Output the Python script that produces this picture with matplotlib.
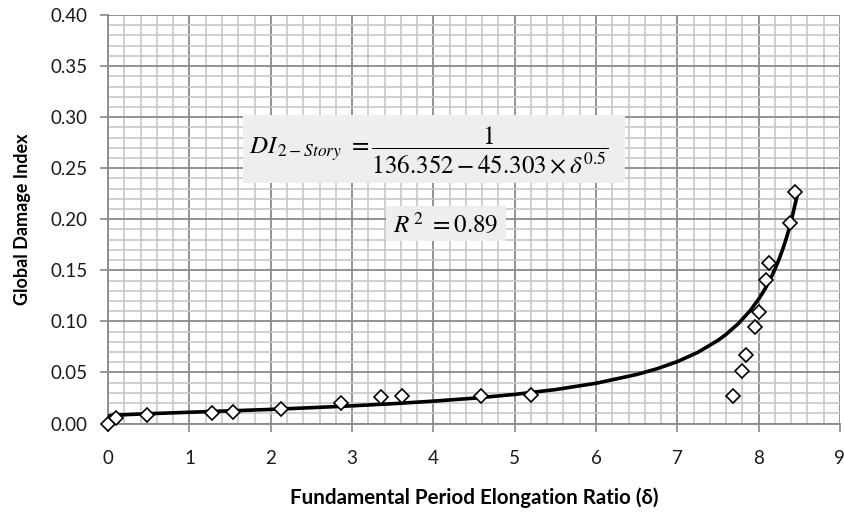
import matplotlib
matplotlib.use('Agg')
import matplotlib.pyplot as plt
from matplotlib.patches import Rectangle
from matplotlib.ticker import MultipleLocator

# measured points (elongation ratio vs damage index)
delta = [0.0, 0.10, 0.48, 1.28, 1.54, 2.13, 2.86, 3.35, 3.61, 4.58, 5.20,
         7.69, 7.79, 7.84, 7.96, 8.01, 8.09, 8.13, 8.38, 8.45]
di = [0.000, 0.005, 0.0085, 0.0106, 0.0117, 0.0140, 0.0198, 0.0262, 0.0269, 0.0270, 0.0280,
      0.0269, 0.0514, 0.0670, 0.0947, 0.1094, 0.1404, 0.1567, 0.1959, 0.2268]

# trend line
curve_delta = [0, 0.02, 0.1, 0.25, 0.5, 1, 1.5, 2, 2.5, 3, 3.5, 4, 4.5, 5, 5.5, 6, 6.5,
               6.75, 7, 7.25, 7.5, 7.6, 7.75, 7.9, 8, 8.05, 8.1, 8.15, 8.2, 8.25, 8.3,
               8.35, 8.4, 8.47]
curve_di = [0.0073, 0.0077, 0.0082, 0.0088, 0.0096, 0.0110, 0.0124, 0.0138, 0.0155, 0.0173,
            0.0194, 0.0219, 0.0248, 0.0285, 0.0332, 0.0394, 0.0480, 0.0536, 0.0606, 0.0696,
            0.0814, 0.0873, 0.0978, 0.1109, 0.1218, 0.1280, 0.1348, 0.1424, 0.1510, 0.1605,
            0.1715, 0.1838, 0.1980, 0.2220]

eq_text = r'$DI_{\,2-\mathit{Story}}\ =\dfrac{1}{136.352-45.303\times\delta^{0.5}}$'
r2_text = r'$R^{\,2}\ =0.89$'

plt.rcParams['font.family'] = ['Lato', 'DejaVu Sans']
plt.rcParams['mathtext.fontset'] = 'stix'

fig = plt.figure(figsize=(8.45, 5.19), dpi=100)
ax = fig.add_axes([0.128, 0.184, 0.866, 0.787])

ax.set_xlim(0, 9)
ax.set_ylim(0, 0.40)
ax.xaxis.set_major_locator(MultipleLocator(1))
ax.xaxis.set_minor_locator(MultipleLocator(0.2))
ax.yaxis.set_major_locator(MultipleLocator(0.05))
ax.yaxis.set_minor_locator(MultipleLocator(0.01))
ax.yaxis.set_major_formatter(matplotlib.ticker.FormatStrFormatter('%.2f'))

ax.grid(which='major', color='#8a8a8a', linewidth=1.3)
ax.grid(which='minor', color='#c4c4c4', linewidth=1.1)
ax.set_axisbelow(True)

for s in ['top', 'right']:
    ax.spines[s].set_visible(False)
for s in ['left', 'bottom']:
    ax.spines[s].set_color('#8a8a8a')
    ax.spines[s].set_linewidth(1.3)

ax.tick_params(which='major', direction='out', length=6, width=1.2, color='#8a8a8a',
               labelsize=13.5, labelcolor='#1a1a1a')
ax.tick_params(axis='x', pad=13)
ax.tick_params(axis='y', pad=9)
ax.tick_params(which='minor', length=0)

# equation boxes
ax.add_patch(Rectangle((1.66, 0.236), 4.70, 0.066, facecolor='#eeeeee', edgecolor='none', zorder=2))
ax.add_patch(Rectangle((3.42, 0.179), 1.47, 0.034, facecolor='#eeeeee', edgecolor='none', zorder=2))
ax.text(1.73, 0.268, eq_text, fontsize=18, va='center', ha='left', zorder=3)
ax.text(4.155, 0.196, r2_text, fontsize=18, va='center', ha='center', zorder=3)

ax.plot(curve_delta, curve_di, color='black', linewidth=2.6, zorder=4)
ax.plot(delta, di, linestyle='none', marker='D', markersize=6.8, markerfacecolor='white',
        markeredgecolor='black', markeredgewidth=1.2, zorder=5, clip_on=False)

ax.set_xlabel('Fundamental Period Elongation Ratio (δ)', fontsize=14.8, fontweight='bold',
              labelpad=15)
ax.set_ylabel('Global Damage Index', fontsize=13, fontweight='bold', labelpad=14)

fig.savefig('out.png', dpi=100)
